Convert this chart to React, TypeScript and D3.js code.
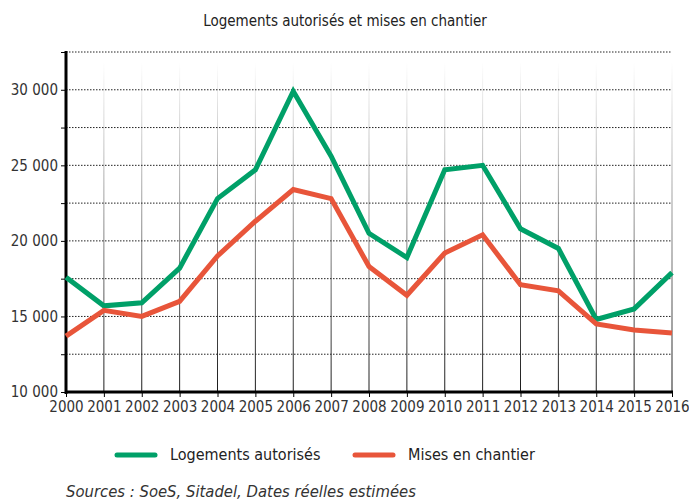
import { useEffect, useRef } from "react";
import * as d3 from "d3";

const years = [2000, 2001, 2002, 2003, 2004, 2005, 2006, 2007, 2008, 2009, 2010, 2011, 2012, 2013, 2014, 2015, 2016];
const autorises = [17600, 15700, 15900, 18200, 22800, 24700, 29900, 25600, 20500, 18900, 24700, 25000, 20800, 19500, 14800, 15500, 17900];
const chantier = [13700, 15400, 15000, 16000, 19000, 21300, 23400, 22800, 18300, 16400, 19200, 20400, 17100, 16700, 14500, 14100, 13900];
const yTicks = [10000, 12500, 15000, 17500, 20000, 22500, 25000, 27500, 30000, 32500];

const FONT = "'Liberation Sans Narrow', 'DejaVu Sans Condensed', 'Open Sans', sans-serif";

export default function App() {
  const ref = useRef<SVGSVGElement>(null);

  useEffect(() => {
    const svg = d3.select(ref.current);
    svg.selectAll("*").remove();

    const W = 689, H = 500;
    const left = 66, right = 672, top = 52, bottom = 392;

    const x = d3.scaleLinear().domain([2000, 2016]).range([left, right]);
    const y = d3.scaleLinear().domain([10000, 32500]).range([bottom, top]);

    svg.attr("width", W).attr("height", H);

    const grad = svg.append("defs").append("linearGradient")
      .attr("id", "vfade").attr("x1", 0).attr("y1", 1).attr("x2", 0).attr("y2", 0);
    grad.append("stop").attr("offset", "0%").attr("stop-color", "#000").attr("stop-opacity", 0.9);
    grad.append("stop").attr("offset", "100%").attr("stop-color", "#000").attr("stop-opacity", 0);

    // title
    svg.append("text").attr("x", 345).attr("y", 26).attr("text-anchor", "middle")
      .style("font-family", FONT).style("font-size", "15px").attr("fill", "#222")
      .text("Logements autorisés et mises en chantier");

    // vertical faded grid
    svg.append("g").selectAll("rect").data(years.slice(1)).join("rect")
      .attr("x", d => x(d) - 0.5).attr("width", 1)
      .attr("y", top + 10).attr("height", bottom - top - 10)
      .attr("fill", "url(#vfade)");

    // horizontal dotted grid
    svg.append("g").selectAll("line").data(yTicks.slice(1)).join("line")
      .attr("x1", left).attr("x2", right)
      .attr("y1", d => y(d)).attr("y2", d => y(d))
      .attr("stroke", "#222").attr("stroke-width", 1).attr("stroke-dasharray", "1.5,1.5");

    // y axis
    const yAxis = svg.append("g").attr("transform", `translate(${left},0)`)
      .call(d3.axisLeft(y).tickValues(yTicks).tickSize(5).tickPadding(3)
        .tickFormat(d => (+d % 5000 === 0 ? d3.format(",")(+d).replace(",", " ") : "")));
    yAxis.select(".domain").remove();
    yAxis.selectAll("text").style("font-family", FONT).style("font-size", "15px").attr("fill", "#333");
    yAxis.selectAll("line").attr("stroke", "#000");

    // x axis
    const xAxis = svg.append("g").attr("transform", `translate(0,${bottom})`)
      .call(d3.axisBottom(x).tickValues(years).tickSize(5).tickPadding(4).tickFormat(d3.format("d")));
    xAxis.select(".domain").remove();
    xAxis.selectAll("text").style("font-family", FONT).style("font-size", "15px").attr("fill", "#333");
    xAxis.selectAll("line").attr("stroke", "#000");

    svg.append("line").attr("x1", left).attr("x2", left).attr("y1", top - 1).attr("y2", bottom + 2)
      .attr("stroke", "#000").attr("stroke-width", 3);
    svg.append("line").attr("x1", left - 1).attr("x2", right + 1).attr("y1", bottom).attr("y2", bottom)
      .attr("stroke", "#000").attr("stroke-width", 3);

    const line = d3.line<number>().x((_, i) => x(years[i])).y(d => y(d));

    const series = [
      { name: "Logements autorisés", values: autorises, color: "#00a068", lx: 117 },
      { name: "Mises en chantier", values: chantier, color: "#e8553a", lx: 355 },
    ];

    series.forEach(s => {
      svg.append("path").datum(s.values).attr("d", line)
        .attr("fill", "none").attr("stroke", s.color).attr("stroke-width", 5)
        .attr("stroke-linejoin", "miter");
    });

    // legend
    series.forEach(s => {
      svg.append("line").attr("x1", s.lx).attr("x2", s.lx + 38).attr("y1", 455).attr("y2", 455)
        .attr("stroke", s.color).attr("stroke-width", 5).attr("stroke-linecap", "round");
      svg.append("text").attr("x", s.lx + 53).attr("y", 460)
        .style("font-family", FONT).style("font-size", "16px").attr("fill", "#222")
        .text(s.name);
    });

    svg.append("text").attr("x", 66).attr("y", 497)
      .style("font-family", FONT).style("font-size", "16.5px").style("font-style", "italic").attr("fill", "#333")
      .text("Sources : SoeS, Sitadel, Dates réelles estimées");
  }, []);

  return <svg ref={ref} style={{ position: "absolute", left: 0, top: 0 }}></svg>;
}
